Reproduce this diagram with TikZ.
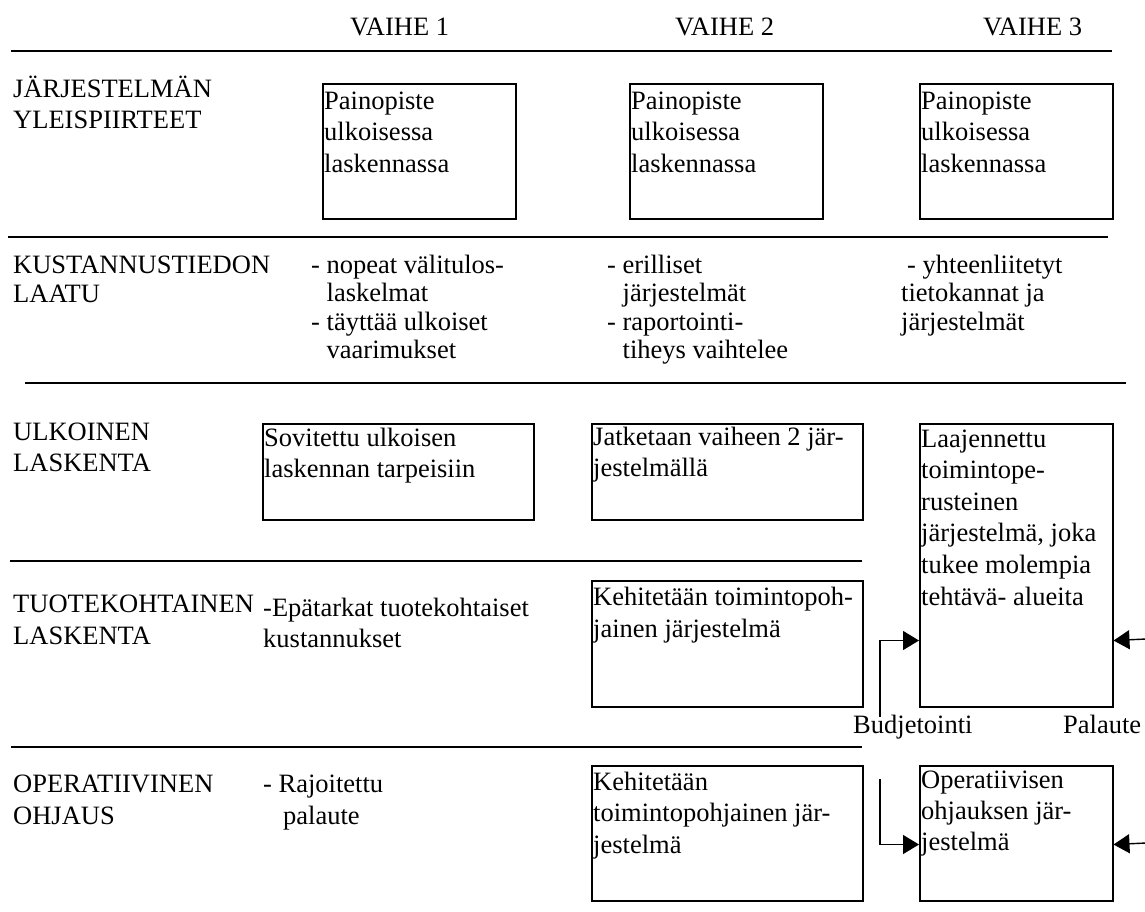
\documentclass[tikz,border=0pt]{standalone}
\usepackage{fontspec}
\setmainfont{Liberation Serif}
\usetikzlibrary{arrows.meta}
% multi-line text block: first argument is the line pitch
\newcommand\rows[2]{\fontsize{26.5}{#1}\selectfont\begin{tabular}[t]{@{}l@{}}#2\end{tabular}}
\begin{document}
\begin{tikzpicture}[x=1pt,y=-1pt,
  txt/.style={anchor=base west, inner sep=0pt, font=\fontsize{26.5}{31.5}\selectfont},
  rule/.style={line width=1.6pt},
  box/.style={draw, line width=1.5pt, inner sep=0pt, anchor=north west},
  conn/.style={line width=1.4pt, -{Triangle[length=16pt,width=19pt]}}]
\useasboundingbox (0,0) rectangle (1145,911);

% column heads
\node[txt] (v1) at (350,35) {VAIHE 1};
\node[txt] (v2) at (675,35) {VAIHE 2};
\node[txt] (v3) at (983,35) {VAIHE 3};

% row separators
\draw[rule] (11,51) -- (1112,51);
\draw[rule] (8,237) -- (1108,237);
\draw[rule] (25,383) -- (1126,383);
\draw[rule] (10,561) -- (862,561);
\draw[rule] (11,747) -- (862,747);

% row labels
\node[txt] (r1) at (13,97) {\rows{31.5pt}{JÄRJESTELMÄN\\YLEISPIIRTEET}};
\node[txt] (r2) at (13,273) {\rows{29pt}{KUSTANNUSTIEDON\\LAATU}};
\node[txt] (r3) at (13,440) {\rows{31.5pt}{ULKOINEN\\LASKENTA}};
\node[txt] (r4) at (13,612) {\rows{32pt}{TUOTEKOHTAINEN\\LASKENTA}};
\node[txt] (r5) at (13,792) {\rows{32pt}{OPERATIIVINEN\\OHJAUS}};

% row 1
\node[box, minimum width=193pt, minimum height=135pt] (b11) at (322,83) {};
\node[box, minimum width=193pt, minimum height=135pt] (b12) at (629,83) {};
\node[box, minimum width=193pt, minimum height=135pt] (b13) at (919,83) {};
\node[txt] (t11) at (324,109) {\rows{31.5pt}{Painopiste\\ulkoisessa\\laskennassa}};
\node[txt] (t12) at (631,109) {\rows{31.5pt}{Painopiste\\ulkoisessa\\laskennassa}};
\node[txt] (t13) at (921,109) {\rows{31.5pt}{Painopiste\\ulkoisessa\\laskennassa}};

% row 2
\node[txt] (t21) at (311,273) {\rows{28.5pt}{- nopeat välitulos-\\\phantom{- }laskelmat\\- täyttää ulkoiset\\\phantom{- }vaarimukset}};
\node[txt] (t22) at (607,273) {\rows{28.5pt}{- erilliset\\\phantom{- }järjestelmät\\- raportointi-\\\phantom{- }tiheys vaihtelee}};
\node[txt] (t23) at (901,273) {\rows{28.5pt}{\hspace*{6pt}- yhteenliitetyt\\tietokannat ja\\järjestelmät}};

% row 3
\node[box, minimum width=271pt, minimum height=96pt] (b31) at (262,423) {};
\node[box, minimum width=271pt, minimum height=96pt] (b32) at (591,423) {};
\node[box, minimum width=193pt, minimum height=283pt] (big) at (919,423) {};
\node[txt] (t31) at (264,446) {\rows{31.5pt}{Sovitettu ulkoisen\\laskennan tarpeisiin}};
\node[txt] (t32) at (593,445) {\rows{31.5pt}{Jatketaan vaiheen 2 jär-\\jestelmällä}};
\node[txt] (t33) at (921,447) {\rows{31.6pt}{Laajennettu\\toimintope-\\rusteinen\\järjestelmä, joka\\tukee molempia\\tehtävä- alueita}};

% row 4
\node[txt] (t41) at (263,616) {\rows{31pt}{-Epätarkat tuotekohtaiset\\kustannukset}};
\node[box, minimum width=271pt, minimum height=126pt] (b42) at (591,580) {};
\node[txt] (t42) at (593,605) {\rows{32pt}{Kehitetään toimintopoh-\\jainen järjestelmä}};

% row 5
\node[txt] (t51) at (263,792) {\rows{32pt}{- Rajoitettu\\\hspace*{20pt}palaute}};
\node[box, minimum width=271pt, minimum height=135pt] (b52) at (591,765) {};
\node[txt] (t52) at (593,790) {\rows{31.5pt}{Kehitetään\\toimintopohjainen jär-\\jestelmä}};
\node[box, minimum width=193pt, minimum height=135pt] (op) at (919,765) {};
\node[txt] (t53) at (921,788) {\rows{31pt}{Operatiivisen\\ohjauksen jär-\\jestelmä}};

% budgeting and feedback links
\node[txt] (bud) at (853,733) {Budjetointi};
\node[txt] (pal) at (1063,733) {Palaute};
\coordinate (budA) at (880,717);
\coordinate (budB) at (880,779);
\coordinate (palA) at (1146,639);
\coordinate (palB) at (1146,843);
\draw[conn] (budA) |- ([yshift=67pt]big.south west);
\draw[conn] (budB) |- ([yshift=57pt]op.south west);
\draw[conn] (palA) -- ([yshift=67pt]big.south east);
\draw[conn] (palB) -- ([yshift=57pt]op.south east);
\end{tikzpicture}
\end{document}
